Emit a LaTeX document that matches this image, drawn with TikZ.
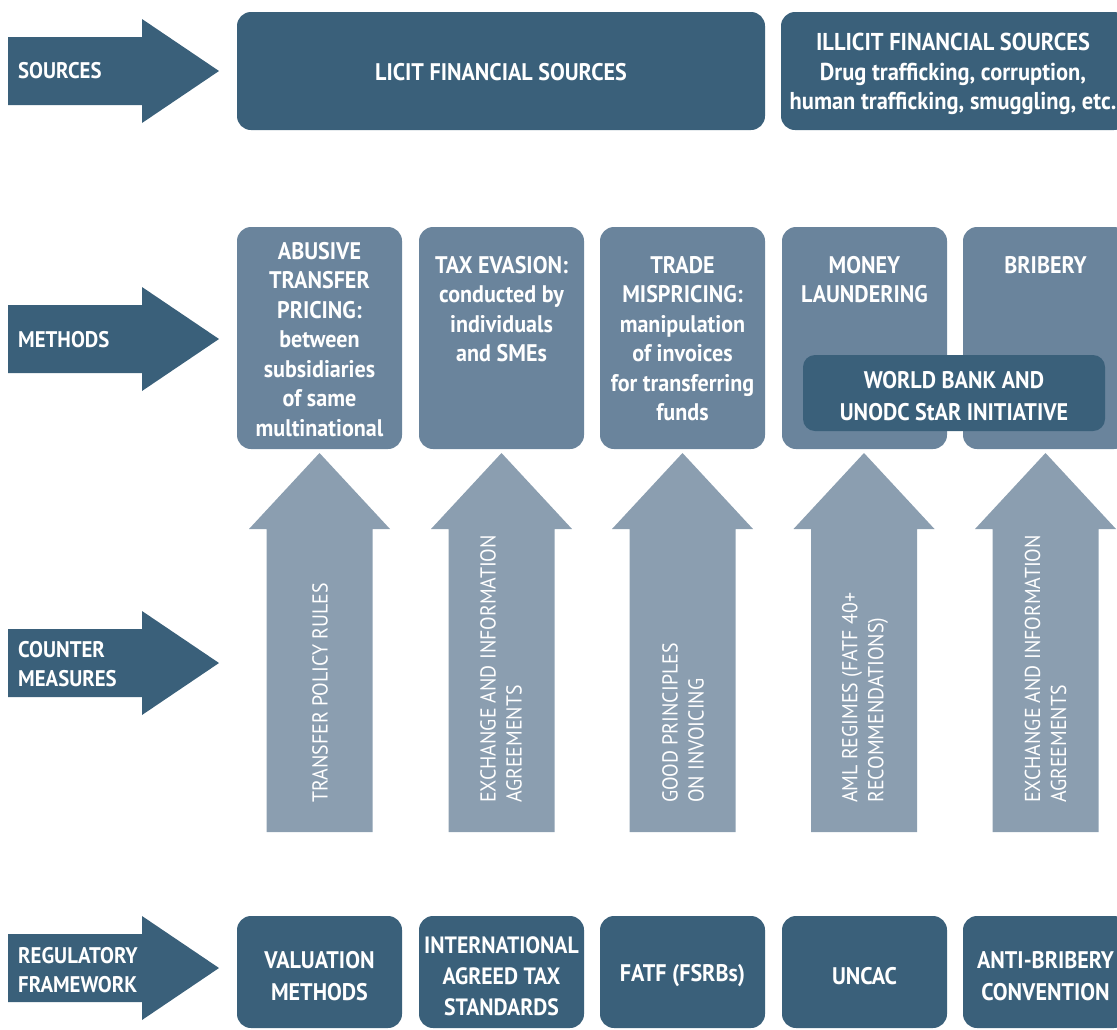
\documentclass[tikz,border=0pt]{standalone}
\usepackage{fontspec}
\setmainfont[FakeStretch=0.92]{PT Sans}
\definecolor{darkblue}{HTML}{3A607A}
\definecolor{midblue}{HTML}{6A849C}
\definecolor{lightblue}{HTML}{8B9EB0}
\tikzset{
  sidearrow/.style={fill=darkblue},
  sidelabel/.style={anchor=west, align=left, text=white, inner sep=0pt, font=\bfseries\fontsize{22.6}{28.5}\selectfont},
  darkbox/.style={fill=darkblue, rounded corners=14pt, inner sep=0pt},
  midbox/.style={fill=midblue, rounded corners=14pt, inner sep=0pt},
  boxtext/.style={text=white, align=center, inner sep=0pt, font=\bfseries\fontsize{24}{29.5}\selectfont},
  uparrow/.style={fill=lightblue},
  uptext/.style={text=white, align=left, inner sep=0pt, rotate=90, anchor=west, font=\fontsize{21.6}{26}\selectfont},
}
\begin{document}
\begin{tikzpicture}[x=1pt,y=-1pt]
\useasboundingbox (0,0) rectangle (1117,1029);
\clip (0,0) rectangle (1117,1029);

% left side arrows
\foreach \yy in {71,339,663,968}{
  \fill[sidearrow] (8,\yy-34) -- (142,\yy-34) -- (142,\yy-52) -- (219,\yy) -- (142,\yy+52) -- (142,\yy+34) -- (8,\yy+34) -- cycle;
}
\node[sidelabel] (lsrc) at (18,71) {SOURCES};
\node[sidelabel] (lmet) at (18,340) {METHODS};
\node[sidelabel] (lcm) at (18,664) {COUNTER\\MEASURES};
\node[sidelabel] (lreg) at (18,970) {REGULATORY\\FRAMEWORK};

% sources row
\node[darkbox, minimum width=528pt, minimum height=118pt] (licit) at (501,71) {};
\node[boxtext] (licitt) at (501,72) {LICIT FINANCIAL SOURCES};
\node[darkbox, minimum width=347pt, minimum height=118pt] (illicit) at (954.5,71) {};
\node[boxtext, font=\bfseries\fontsize{24.4}{29.5}\selectfont] (illicitt) at (953,74) {ILLICIT FINANCIAL SOURCES\\Drug trafficking, corruption,\\human trafficking, smuggling, etc.};

% methods row
\foreach \cx/\nm in {319.5/m1,501.5/m2,682.5/m3,864.5/m4,1045.5/m5}{
  \node[midbox, minimum width=165pt, minimum height=222pt] (\nm) at (\cx,338) {};
}
\node[boxtext, anchor=north] (m1t) at (319.5,242) {ABUSIVE\\TRANSFER\\PRICING:\\between\\subsidiaries\\of same\\multinational};
\node[boxtext, anchor=north] (m2t) at (501.5,256) {TAX EVASION:\\conducted by\\individuals\\and SMEs};
\node[boxtext, anchor=north] (m3t) at (682.5,256) {TRADE\\MISPRICING:\\manipulation\\of invoices\\for transferring\\funds};
\node[boxtext, anchor=north] (m4t) at (864.5,256) {MONEY\\LAUNDERING};
\node[boxtext, anchor=north] (m5t) at (1045.5,256) {BRIBERY};
\node[darkbox, minimum width=302pt, minimum height=76pt, rounded corners=12pt] (wb) at (954,393) {};
\node[boxtext, font=\bfseries\fontsize{24}{32}\selectfont] (wbt) at (954,396) {WORLD BANK AND\\UNODC StAR INITIATIVE};

% counter measures up arrows
\foreach \cx in {319.5,501.5,682.5,864,1045.5}{
  \fill[uparrow] (\cx-53,832) -- (\cx+53,832) -- (\cx+53,529) -- (\cx+70.5,529) -- (\cx,453) -- (\cx-70.5,529) -- (\cx-53,529) -- cycle;
}
\node[uptext] (c1) at (320,803) {TRANSFER POLICY RULES};
\node[uptext] (c2) at (501,803) {EXCHANGE AND INFORMATION\\AGREEMENTS};
\node[uptext] (c3) at (683,803) {GOOD PRINCIPLES\\ON INVOICING};
\node[uptext] (c4) at (865,803) {AML REGIMES (FATF 40+\\RECOMMENDATIONS)};
\node[uptext] (c5) at (1045.5,803) {EXCHANGE AND INFORMATION\\AGREEMENTS};

% regulatory framework row
\foreach \cx/\nm in {319.5/r1,501.5/r2,682.5/r3,864.5/r4,1045.5/r5}{
  \node[darkbox, minimum width=165pt, minimum height=112pt] (\nm) at (\cx,972) {};
}
\node[boxtext, font=\bfseries\fontsize{24}{32}\selectfont] (r1t) at (319.5,976) {VALUATION\\METHODS};
\node[boxtext, font=\bfseries\fontsize{23.6}{31}\selectfont] (r2t) at (501.5,976) {INTERNATIONAL\\AGREED TAX\\STANDARDS};
\node[boxtext] (r3t) at (682.5,976) {FATF (FSRBs)};
\node[boxtext] (r4t) at (864.5,976) {UNCAC};
\node[boxtext, font=\bfseries\fontsize{24}{32}\selectfont] (r5t) at (1045.5,976) {ANTI-BRIBERY\\CONVENTION};
\end{tikzpicture}
\end{document}
